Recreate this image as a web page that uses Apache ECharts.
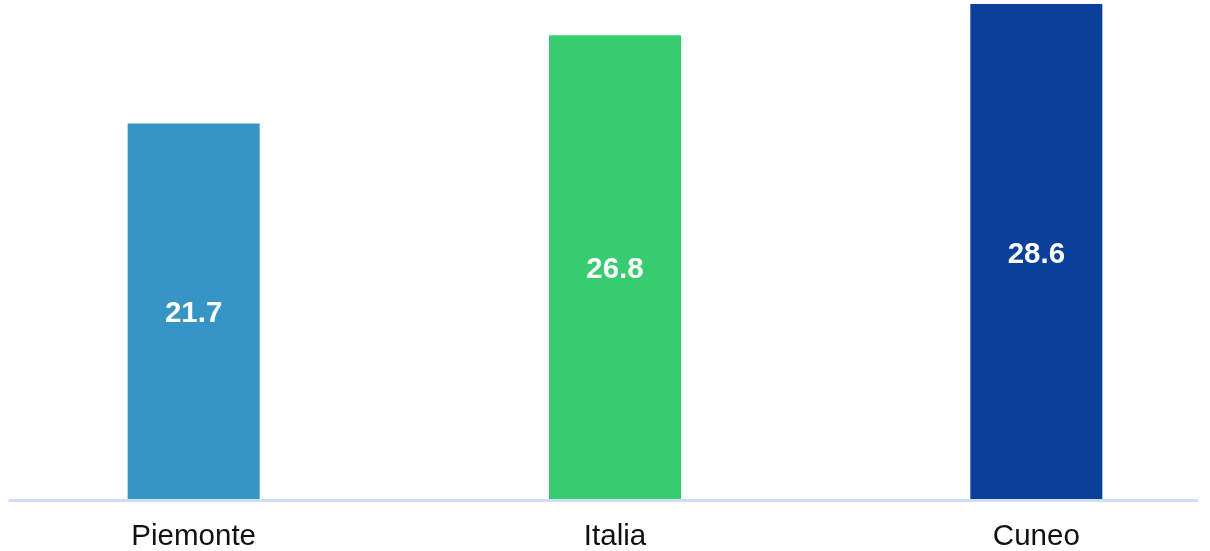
<!DOCTYPE html>
<html>
<head>
<meta charset="utf-8">
<script src="https://cdn.jsdelivr.net/npm/echarts@6/dist/echarts.min.js"></script>
<style>html,body{margin:0;padding:0;background:#fff;}#c{width:1210px;height:551px;}</style>
</head>
<body>
<div id="c"></div>
<script>
const categories = ['Piemonte', 'Italia', 'Cuneo'];
const values = [21.7, 26.8, 28.6];
const colors = ['#3795c5', '#36cc6f', '#0a409a'];

const chart = echarts.init(document.getElementById('c'), null, {renderer: 'canvas'});
chart.setOption({
  animation: false,
  backgroundColor: '#ffffff',
  grid: [
    {left: -17, right: -37, top: 4, bottom: 52, outerBoundsMode: 'none', containLabel: false},
    {left: 10, right: 13, top: 4, bottom: 51, outerBoundsMode: 'none'}
  ],
  xAxis: [
    {
      type: 'category', gridIndex: 0, data: categories,
      axisLine: {show: false}, axisTick: {show: false},
      axisLabel: {color: '#111', fontFamily: 'Liberation Sans, Arial', fontSize: 29.5, margin: 23}
    },
    {
      type: 'value', gridIndex: 1, min: 0, max: 1,
      axisLine: {show: true, lineStyle: {color: '#cddff6', width: 3}},
      axisTick: {show: false}, axisLabel: {show: false}, splitLine: {show: false}
    }
  ],
  yAxis: [
    {type: 'value', gridIndex: 0, min: 0, max: 28.6, show: false, splitLine: {show: false}},
    {type: 'value', gridIndex: 1, min: 0, max: 1, show: false, splitLine: {show: false}}
  ],
  series: [{
    type: 'bar', xAxisIndex: 0, yAxisIndex: 0,
    barWidth: 132,
    data: values.map((v, i) => ({value: v, itemStyle: {color: colors[i]}})),
    label: {
      show: true, position: 'inside', offset: [0, 3], color: '#fff', fontWeight: 'bold',
      fontFamily: 'Liberation Sans, Arial', fontSize: 29.5,
      formatter: p => p.value.toFixed(1)
    }
  }]
});
</script>
</body>
</html>
